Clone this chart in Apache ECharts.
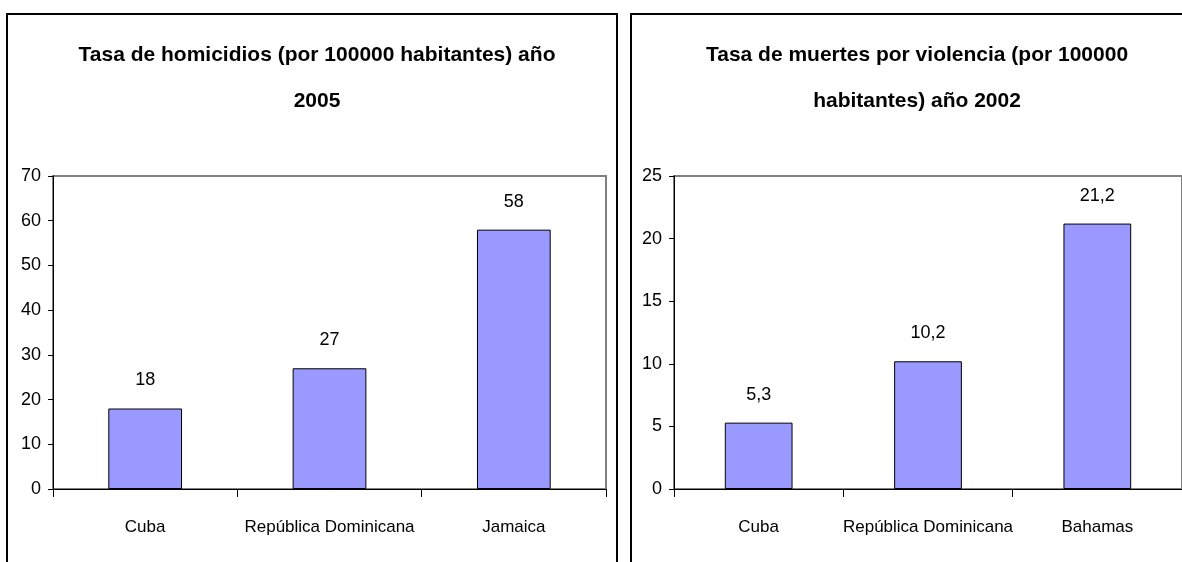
<!DOCTYPE html>
<html>
<head>
<meta charset="utf-8">
<script src="https://cdn.jsdelivr.net/npm/echarts@6/dist/echarts.min.js"></script>
<style>
  html, body { margin: 0; padding: 0; background: #fff; }
  #chart { width: 1182px; height: 562px; }
</style>
</head>
<body>
<div id="chart"></div>
<script>
const categoriesLeft = ["Cuba", "República Dominicana", "Jamaica"];
const valuesLeft = [18, 27, 58];
const categoriesRight = ["Cuba", "República Dominicana", "Bahamas"];
const valuesRight = [5.3, 10.2, 21.2];

const titleLeft = "Tasa de homicidios (por 100000 habitantes) año\n2005";
const titleRight = "Tasa de muertes por violencia (por 100000\nhabitantes) año 2002";

// no narrow face installed, so sizes are picked to match the text widths
const font = '"Liberation Sans Narrow", "Arial Narrow", "Liberation Sans", Arial, sans-serif';

function yAxisOpt(gridIndex, max, interval) {
  return {
    type: "value",
    gridIndex: gridIndex,
    min: 0,
    max: max,
    interval: interval,
    axisLine: { show: true, lineStyle: { color: "#000", width: 1 } },
    axisTick: { show: true, length: 5, lineStyle: { color: "#000" } },
    axisLabel: { color: "#000", fontSize: 18, fontFamily: font, margin: 12 },
    splitLine: { show: false },
  };
}

function xAxisOpt(gridIndex, data) {
  return {
    type: "category",
    gridIndex: gridIndex,
    data: data,
    axisLine: { show: true, lineStyle: { color: "#000", width: 1 } },
    axisTick: { show: true, length: 8, lineStyle: { color: "#000" } },
    axisLabel: { color: "#000", fontSize: 17, fontFamily: font, margin: 30, interval: 0 },
  };
}

function barSeries(index, data, fmt) {
  return {
    type: "bar",
    xAxisIndex: index,
    yAxisIndex: index,
    data: data,
    barWidth: "40%",
    itemStyle: { color: "#9999FF", borderColor: "#000", borderWidth: 1 },
    label: {
      show: true,
      position: "top",
      distance: 19,
      color: "#000",
      fontSize: 18,
      fontFamily: font,
      formatter: fmt,
    },
  };
}

let chart = echarts.init(document.getElementById("chart"));
let titleStyle = { fontSize: 21, fontWeight: "bold", fontFamily: font, color: "#000", lineHeight: 46 };
let option = {
  animation: false,
  title: [
    { text: titleLeft, left: 312, top: 27, textAlign: "center", textStyle: titleStyle },
    { text: titleRight, left: 912, top: 27, textAlign: "center", textStyle: titleStyle },
  ],
  grid: [
    { left: 53, top: 176, width: 553, height: 313, show: true, borderColor: "#808080", borderWidth: 2 },
    { left: 674, top: 176, width: 510, height: 313, show: true, borderColor: "#808080", borderWidth: 2 },
  ],
  xAxis: [xAxisOpt(0, categoriesLeft), xAxisOpt(1, categoriesRight)],
  yAxis: [yAxisOpt(0, 70, 10), yAxisOpt(1, 25, 5)],
  series: [
    barSeries(0, valuesLeft, (p) => String(p.value)),
    barSeries(1, valuesRight, (p) => String(p.value).replace(".", ",")),
  ],
  graphic: [
    {
      type: "rect",
      shape: { x: 7, y: 14, width: 610, height: 600 },
      style: { fill: "none", stroke: "#000", lineWidth: 2 },
    },
    {
      type: "rect",
      shape: { x: 631, y: 14, width: 600, height: 600 },
      style: { fill: "none", stroke: "#000", lineWidth: 2 },
    },
  ],
};
option && chart.setOption(option);
</script>
</body>
</html>
